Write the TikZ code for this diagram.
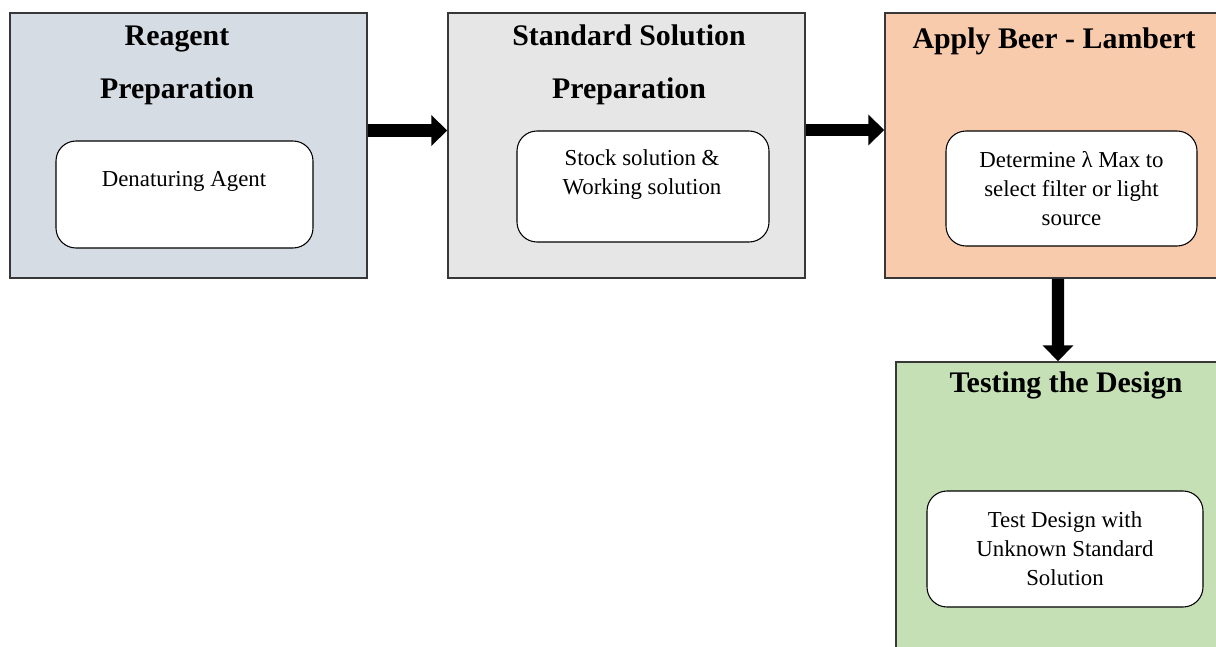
\documentclass[tikz,border=0pt]{standalone}
\usepackage{fontspec}
\setmainfont{Liberation Serif}
\usetikzlibrary{arrows.meta, positioning}
\definecolor{reagentblue}{RGB}{214, 220, 228}
\definecolor{standardgray}{RGB}{231, 230, 230}
\definecolor{beerpeach}{RGB}{248, 203, 173}
\definecolor{testgreen}{RGB}{197, 224, 180}
\definecolor{framegray}{RGB}{55, 55, 55}

\tikzset{
    stagebox/.style={draw=framegray, line width=0.9pt, inner sep=0pt},
    stagetitle/.style={font=\fontsize{17}{30}\selectfont\bfseries, align=center, inner sep=0pt},
    taskbox/.style={draw=black, line width=0.6pt, fill=white, rounded corners=0.4cm, inner sep=0pt,
        font=\fontsize{13}{16.5}\selectfont, align=center},
    tasktext/.style={font=\fontsize{13}{16.5}\selectfont, align=center, inner sep=0pt},
    flowarrow/.style={line width=7pt, -{Triangle[width=17pt, length=9pt]}}
}

\begin{document}
\begin{tikzpicture}
    \useasboundingbox (0, 0) rectangle (24.32, 12.92);
    \clip (0, 0) rectangle (24.32, 12.92);

    % Stage frames
    \node[stagebox, fill=reagentblue, minimum width=7.14cm, minimum height=5.3cm] (reagent) at (3.77, 10.01) {};
    \node[stagebox, fill=standardgray, minimum width=7.14cm, minimum height=5.3cm] (standard) at (12.53, 10.01) {};
    \node[stagebox, fill=beerpeach, minimum width=6.75cm, minimum height=5.3cm] (beer) at (21.075, 10.01) {};
    \node[stagebox, fill=testgreen, minimum width=6.53cm, minimum height=5.78cm] (testing) at (21.185, 2.79) {};

    % Stage titles
    \node[stagetitle] (reagenttitle) at (3.54, 11.61) {Reagent\\Preparation};
    \node[stagetitle] (standardtitle) at (12.58, 11.62) {Standard Solution\\Preparation};
    \node[stagetitle] (beertitle) at (21.08, 12.10) {Apply Beer - Lambert};
    \node[stagetitle] (testingtitle) at (21.32, 5.22) {Testing the Design};

    % Tasks inside each stage
    \node[taskbox, minimum width=5.14cm, minimum height=2.14cm] (agent) at (3.69, 9.03) {};
    \node[tasktext] (agenttext) at (3.68, 9.29) {Denaturing Agent};
    \node[taskbox, minimum width=5.04cm, minimum height=2.22cm] (stock) at (12.86, 9.19) {};
    \node[tasktext] (stocktext) at (12.84, 9.42) {Stock solution \&\\Working solution};
    \node[taskbox, minimum width=5.02cm, minimum height=2.3cm] (lambda) at (21.43, 9.15)
        {Determine λ Max to\\select filter or light\\source};
    \node[taskbox, minimum width=5.52cm, minimum height=2.32cm] (unknown) at (21.30, 1.94)
        {Test Design with\\Unknown Standard\\Solution};

    % Flow between stages
    \draw[flowarrow] ([yshift=0.3cm]reagent.east) -- ([yshift=0.3cm]standard.west);
    \draw[flowarrow] ([yshift=0.31cm]standard.east) -- ([yshift=0.31cm]beer.west);
    \draw[flowarrow] ([xshift=0.085cm]beer.south) -- ([xshift=-0.025cm]testing.north);
\end{tikzpicture}
\end{document}
